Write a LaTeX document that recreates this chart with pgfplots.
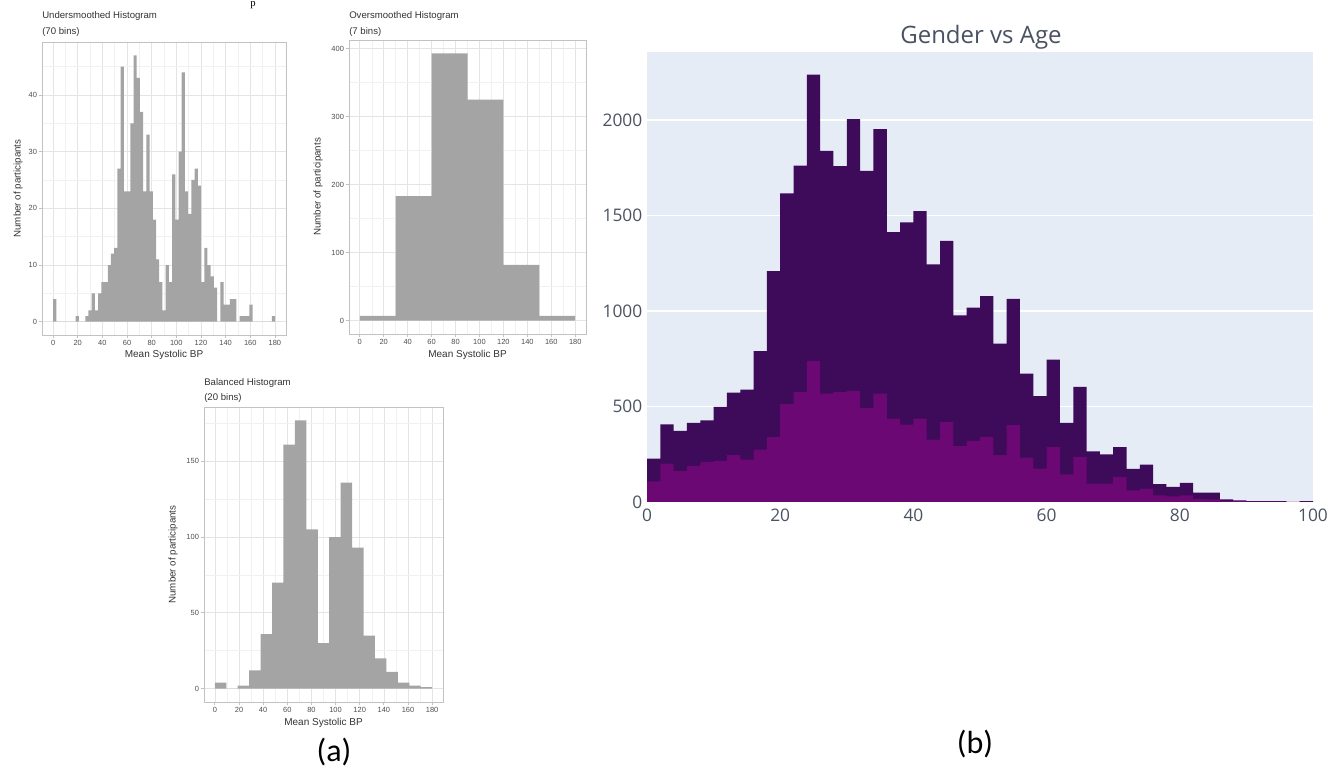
\documentclass[border=0pt]{standalone}
\usepackage{pgfplots}
\pgfplotsset{compat=1.18}
\usepackage{fontspec}
\setmainfont{Liberation Sans}
\newfontfamily\opensans{Open Sans}
\newfontfamily\carlito{Carlito}
\newfontfamily\timesfont{Liberation Serif}

\definecolor{barg}{HTML}{A4A4A4}
\definecolor{gmaj}{HTML}{E4E4E4}
\definecolor{gmin}{HTML}{F1F1F1}
\definecolor{frame}{HTML}{C2C2C2}
\definecolor{tickg}{HTML}{4D4D4D}
\definecolor{plotbg}{HTML}{E5ECF6}
\definecolor{male}{HTML}{3E0A5A}
\definecolor{female}{HTML}{6B0873}
\definecolor{plytxt}{HTML}{4A5262}

\pgfplotsset{
  gghist/.style={
    scale only axis,
    xmin=-9, xmax=189,
    xtick={0,20,...,180},
    minor xtick={10,30,...,170},
    grid=both,
    major grid style={gmaj, line width=0.5pt},
    minor grid style={gmin, line width=0.35pt},
    axis line style={frame, line width=0.6pt},
    tick style={frame, line width=0.6pt},
    tick align=outside,
    major tick length=2.6pt,
    minor tick length=0pt,
    xtick pos=bottom, ytick pos=left,
    ticklabel style={font=\fontsize{5.6pt}{6pt}\selectfont, text=tickg},
    xticklabel style={inner sep=1pt},
    yticklabel style={inner sep=1pt},
    /pgf/number format/assume math mode=true,
    /pgf/number format/1000 sep={},
  },
  ggbar/.style={ybar interval, fill=barg, draw=none},
}

% Mean systolic BP, 70 bins of width 2.61 (left edges)
\pgfplotstableread{
x y
0 4
2.61 0
5.22 0
7.83 0
10.44 0
13.05 0
15.66 0
18.27 1
20.88 0
23.49 0
26.1 1
28.71 2
31.32 5
33.93 2
36.54 5
39.15 7
41.76 7
44.37 10
46.98 12
49.59 13
52.2 27
54.81 45
57.42 23
60.03 23
62.64 35
65.25 47
67.86 43
70.47 37
73.08 23
75.69 33
78.3 23
80.91 18
83.52 11
86.13 7
88.74 2
91.35 10
93.96 7
96.57 26
99.18 18
101.79 30
104.4 44
107.01 23
109.62 19
112.23 25
114.84 27
117.45 24
120.06 7
122.67 13
125.28 10
127.89 8
130.5 6
133.11 0
135.72 7
138.33 3
140.94 3
143.55 4
146.16 4
148.77 0
151.38 1
153.99 1
156.6 1
159.21 3
161.82 0
164.43 0
167.04 0
169.65 0
172.26 0
174.87 0
177.48 1
180.09 0
}\undersmoothed

% 7-bin version (width 30)
\pgfplotstableread{
x y
0 7
30 183
60 393
90 325
120 82
150 7
180 0
}\oversmoothed

% 20-bin version (width 9.47)
\pgfplotstableread{
x y
0 4
9.47 0
18.95 2
28.42 12
37.89 36
47.37 70
56.84 161
66.32 177
75.79 105
85.26 30
94.74 100
104.21 136
113.68 93
123.16 35
132.63 20
142.11 11
151.58 4
161.05 2
170.53 1
180 0
}\balanced

% Age histogram, bins of width 2: all participants and the lower (female) part
\pgfplotstableread{
age total female
0 227 108
2 407 201
4 372 162
6 414 189
8 428 210
10 498 215
12 573 245
14 589 222
16 790 274
18 1209 340
20 1616 512
22 1762 576
24 2239 739
26 1839 568
28 1759 576
30 2005 582
32 1734 493
34 1953 568
36 1413 437
38 1465 405
40 1523 437
42 1245 327
44 1368 419
46 978 292
48 1018 320
50 1078 341
52 830 245
54 1064 402
56 672 232
58 554 175
60 746 288
62 414 145
64 603 236
66 265 96
68 250 96
70 288 131
72 173 61
74 196 70
76 93 35
78 79 30
80 100 35
82 49 17
84 49 14
86 14 5
88 9 4
90 4 2
92 4 2
94 4 2
96 0 0
98 4 2
100 0 0
}\agehist

\begin{document}
\begin{tikzpicture}
\useasboundingbox (0,0) rectangle (1005.75pt,580.5pt);

% ---------- (a) undersmoothed ----------
\begin{axis}[gghist, at={(31.5pt,329.25pt)}, anchor=south west,
  width=183pt, height=219.75pt,
  ymin=-2.35, ymax=49.35,
  ytick={0,10,...,40}, minor ytick={5,15,...,45}]
  \addplot[ggbar] table[x=x,y=y] {\undersmoothed};
\end{axis}

% ---------- (a) oversmoothed ----------
\begin{axis}[gghist, at={(261.75pt,330pt)}, anchor=south west,
  width=177.75pt, height=220.5pt,
  ymin=-19.65, ymax=412.65,
  ytick={0,100,...,400}, minor ytick={50,150,...,350}]
  \addplot[ggbar] table[x=x,y=y] {\oversmoothed};
\end{axis}

% ---------- (a) balanced ----------
\begin{axis}[gghist, at={(153pt,54pt)}, anchor=south west,
  width=179.25pt, height=221.25pt,
  ymin=-8.85, ymax=185.85,
  ytick={0,50,...,150}, minor ytick={25,75,...,175}]
  \addplot[ggbar] table[x=x,y=y] {\balanced};
\end{axis}

% ---------- (b) gender vs age ----------
\begin{axis}[at={(485.25pt,204pt)}, anchor=south west, scale only axis,
  width=499.5pt, height=337.5pt,
  xmin=0, xmax=100, ymin=0, ymax=2357,
  axis background/.style={fill=plotbg},
  axis line style={draw=none},
  xtick={0,20,...,100}, ytick={0,500,...,2000},
  ymajorgrids, major grid style={white, line width=1pt},
  major tick length=0pt,
  ticklabel style={font=\opensans\fontsize{13pt}{14pt}\selectfont, text=plytxt},
  xticklabel style={yshift=-2pt},
  /pgf/number format/assume math mode=true,
  /pgf/number format/1000 sep={}]
  \addplot[ybar interval, fill=male, draw=none] table[x=age,y=total] {\agehist};
  \addplot[ybar interval, fill=female, draw=none] table[x=age,y=female] {\agehist};
\end{axis}

\begin{scope}[x=0.75pt, y=0.75pt]
  \node[anchor=base west, inner sep=0, font=\timesfont\fontsize{8pt}{8pt}\selectfont] at (250,767.5) {p};

  \begin{scope}[every node/.style={inner sep=0, text=black!80}]
    \node[anchor=base west, font=\fontsize{7.2pt}{8pt}\selectfont] at (42,755) {Undersmoothed Histogram};
    \node[anchor=base west, font=\fontsize{7.2pt}{8pt}\selectfont] at (42,739) {(70 bins)};
    \node[anchor=base west, font=\fontsize{7.2pt}{8pt}\selectfont] at (349,755) {Oversmoothed Histogram};
    \node[anchor=base west, font=\fontsize{7.2pt}{8pt}\selectfont] at (349,739) {(7 bins)};
    \node[anchor=base west, font=\fontsize{7.2pt}{8pt}\selectfont] at (204,388) {Balanced Histogram};
    \node[anchor=base west, font=\fontsize{7.2pt}{8pt}\selectfont] at (204,373) {(20 bins)};

    \node[font=\fontsize{7.5pt}{8pt}\selectfont] at (164,419) {Mean Systolic BP};
    \node[font=\fontsize{7.5pt}{8pt}\selectfont] at (467.5,419) {Mean Systolic BP};
    \node[font=\fontsize{7.5pt}{8pt}\selectfont] at (323.5,51) {Mean Systolic BP};

    \node[rotate=90, font=\fontsize{7.3pt}{8pt}\selectfont] at (18,585.5) {Number of participants};
    \node[rotate=90, font=\fontsize{7.3pt}{8pt}\selectfont] at (318,587) {Number of participants};
    \node[rotate=90, font=\fontsize{7.3pt}{8pt}\selectfont] at (173,219.5) {Number of participants};
  \end{scope}

  \node[font=\opensans\fontsize{18pt}{20pt}\selectfont, text=plytxt, inner sep=0] at (981,737) {Gender vs Age};

  \node[font=\carlito\fontsize{24pt}{26pt}\selectfont, inner sep=0] at (334,22) {(a)};
  \node[font=\carlito\fontsize{24pt}{26pt}\selectfont, inner sep=0] at (975,30) {(b)};
\end{scope}
\end{tikzpicture}
\end{document}
